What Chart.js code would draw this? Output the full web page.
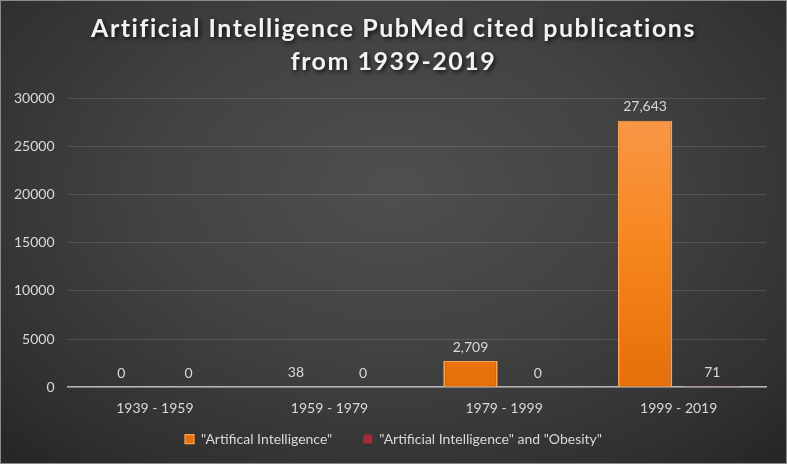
<!DOCTYPE html>
<html>
<head>
<meta charset="utf-8">
<script src="https://cdn.jsdelivr.net/npm/chart.js@4.4.0/dist/chart.umd.min.js"></script>
<style>
html,body{margin:0;padding:0;background:#2b2b2b;}
#wrap{position:relative;width:785px;height:462px;border:1px solid #8a8a8a;
background:radial-gradient(ellipse 70% 80% at 50% 40%, #4f4f4f 0%, #424242 45%, #303030 85%, #272727 100%);}
canvas{display:block;}
</style>
</head>
<body>
<div id="wrap"><canvas id="c" width="785" height="462"></canvas></div>
<script>
const categories = ["1939 - 1959", "1959 - 1979", "1979 - 1999", "1999 - 2019"];
const aiValues = [0, 38, 2709, 27643];
const aiObesityValues = [0, 0, 0, 71];
const seriesNames = ['"Artifical Intelligence"', '"Artificial Intelligence" and "Obesity"'];
const titleLines = ["Artificial Intelligence PubMed cited publications", "from 1939-2019"];
const yTicks = [0, 5000, 10000, 15000, 20000, 25000, 30000];

const labelColor = '#d9d9d9';
const fontFam = 'Lato, "Open Sans", sans-serif';

function orangeGrad(ctx) {
  const chart = ctx.chart;
  const area = chart.chartArea;
  if (!area) return '#f58220';
  const g = chart.ctx.createLinearGradient(0, area.top, 0, area.bottom);
  g.addColorStop(0, '#f99a4e');
  g.addColorStop(0.5, '#f7861f');
  g.addColorStop(1, '#e56f0a');
  return g;
}

const dataLabels = {
  id: 'dataLabels',
  afterDatasetsDraw(chart) {
    const ctx = chart.ctx;
    ctx.save();
    ctx.font = '14px ' + fontFam;
    ctx.fillStyle = labelColor;
    ctx.textAlign = 'center';
    ctx.textBaseline = 'bottom';
    chart.data.datasets.forEach((ds, i) => {
      const meta = chart.getDatasetMeta(i);
      meta.data.forEach((el, j) => {
        const v = ds.data[j];
        ctx.fillText(v.toLocaleString('en-US'), el.x, el.y - 7);
      });
    });
    ctx.restore();
  }
};

// shift title & legend so they are centred on the whole canvas (right layout padding is only for the plot)
const boxStyle = {
  id: 'boxStyle',
  afterInit(chart) {
    const tb = chart.titleBlock;
    if (tb) {
      const orig = tb.draw.bind(tb);
      tb.draw = function(area) {
        const ctx = chart.ctx;
        ctx.save();
        ctx.translate(10, 0);
        ctx.letterSpacing = '1.5px';
        ctx.shadowColor = 'rgba(0,0,0,0.75)';
        ctx.shadowBlur = 4;
        ctx.shadowOffsetX = 2;
        ctx.shadowOffsetY = 2;
        orig(area);
        ctx.restore();
      };
    }
    const lg = chart.legend;
    if (lg) {
      const origL = lg.draw.bind(lg);
      lg.draw = function(area) {
        const ctx = chart.ctx;
        ctx.save();
        ctx.translate(10, 0);
        origL(area);
        ctx.restore();
      };
    }
  }
};

new Chart(document.getElementById('c'), {
  type: 'bar',
  data: {
    labels: categories,
    datasets: [
      { label: seriesNames[0], data: aiValues, backgroundColor: orangeGrad,
        borderColor: '#fba14f', borderWidth: {top:1,left:2,right:2,bottom:0}, borderSkipped: false },
      { label: seriesNames[1], data: aiObesityValues, backgroundColor: '#a52a3c',
        borderColor: '#c0505f', borderWidth: 0 }
    ]
  },
  options: {
    responsive: false,
    animation: false,
    categoryPercentage: 0.77,
    barPercentage: 0.81,
    layout: { padding: { left: 0, right: 20, top: 8, bottom: 7 } },
    plugins: {
      title: {
        display: true,
        text: titleLines,
        color: '#f2f2f2',
        font: { family: fontFam, size: 25, weight: 'bold', lineHeight: 1.3 },
        padding: { top: 4, bottom: 20 }
      },
      legend: {
        position: 'bottom',
        labels: {
          color: labelColor,
          font: { family: fontFam, size: 14 },
          boxWidth: 9, boxHeight: 9, padding: 10,
          generateLabels(chart) {
            const items = Chart.defaults.plugins.legend.labels.generateLabels(chart);
            if (items.length) items[0].text = items[0].text + '\u2003\u2003';
            return items;
          }
        }
      },
      tooltip: { enabled: false }
    },
    scales: {
      x: {
        grid: { display: false },
        border: { display: true, color: '#b5b5b5', width: 1.5 },
        ticks: { color: labelColor, font: { family: fontFam, size: 14 }, padding: 5 }
      },
      y: {
        min: 0, max: 30000,
        afterBuildTicks(axis) { axis.ticks = yTicks.map(v => ({ value: v })); },
        grid: { color: 'rgba(255,255,255,0.13)', drawTicks: false },
        border: { display: false },
        ticks: { color: labelColor, font: { family: fontFam, size: 14 }, padding: 13,
          callback: v => String(v) }
      }
    }
  },
  plugins: [dataLabels, boxStyle]
});
</script>
</body>
</html>
